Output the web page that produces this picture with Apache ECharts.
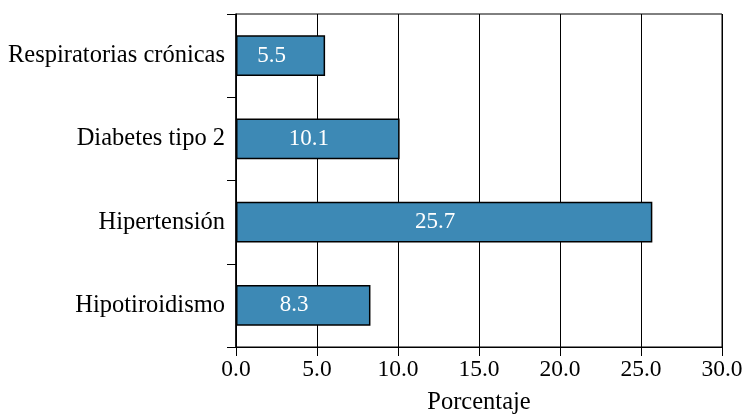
<!DOCTYPE html>
<html>
<head>
<meta charset="utf-8">
<script src="https://cdn.jsdelivr.net/npm/echarts@6/dist/echarts.min.js"></script>
<style>html,body{margin:0;padding:0;background:#fff;}#c{width:744px;height:415px;}</style>
</head>
<body>
<div id="c"></div>
<script>
const categories = ['Hipotiroidismo', 'Hipertensión', 'Diabetes tipo 2', 'Respiratorias crónicas'];
const values = [8.3, 25.7, 10.1, 5.5];
const xTicks = { min: 0, max: 30, interval: 5 };
const xName = 'Porcentaje';

const font = 'Liberation Serif';
const chart = echarts.init(document.getElementById('c'));
chart.setOption({
  backgroundColor: '#fff',
  animation: false,
  grid: { left: 236, right: 22, top: 14, bottom: 68, show: true, borderColor: '#000', borderWidth: 1,
          containLabel: false, outerBoundsMode: 'none' },
  xAxis: {
    type: 'value', min: xTicks.min, max: xTicks.max, interval: xTicks.interval,
    name: xName, nameLocation: 'middle', nameGap: 43,
    nameTextStyle: { fontFamily: font, fontSize: 24.5, color: '#000' },
    axisLine: { show: true, lineStyle: { color: '#000', width: 1 } },
    axisTick: { show: true, length: 9, lineStyle: { color: '#000' } },
    axisLabel: { fontFamily: font, fontSize: 23.5, color: '#000', margin: 11, formatter: v => v.toFixed(1) },
    splitLine: { show: true, lineStyle: { color: '#000', width: 1 } }
  },
  yAxis: {
    type: 'category', data: categories,
    axisLine: { show: true, lineStyle: { color: '#000', width: 1.5 } },
    axisTick: { show: true, length: 9, lineStyle: { color: '#000' } },
    axisLabel: { fontFamily: font, fontSize: 24.5, color: '#000', margin: 11 }
  },
  series: [{
    type: 'bar', data: values, barWidth: '49%',
    itemStyle: { color: '#3d89b5', borderColor: '#000', borderWidth: 1.5 },
    label: { show: true, position: 'inside', offset: [-9, 0], fontFamily: font, fontSize: 23, color: '#fff', formatter: p => p.value.toFixed(1) }
  }]
});
</script>
</body>
</html>
